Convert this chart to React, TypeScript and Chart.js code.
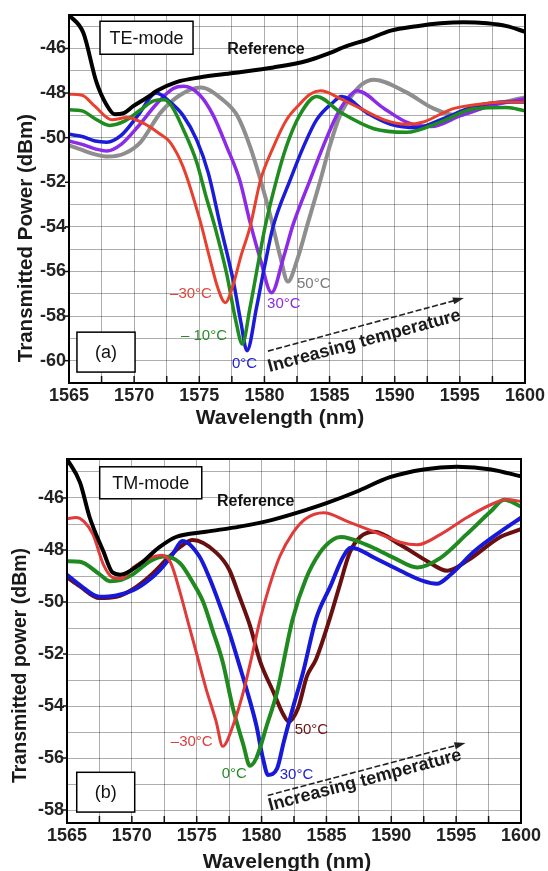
import React, { useEffect, useRef } from "react";
import { Chart, registerables } from "chart.js";
Chart.register(...registerables);

const FONT = '"Liberation Sans", Arial, sans-serif';

// ---------- TE-mode (a) ----------
const teRefX = [1565, 1566.1, 1567.1, 1567.9, 1568.5, 1569.2, 1569.9, 1571, 1571.75, 1573.3, 1575, 1577.6, 1580.7, 1583.3, 1584.8, 1586.3, 1587.9, 1589.7, 1591.7, 1593.5, 1595.3, 1597.1, 1598.6, 1600];
const teRefY = [-44.5, -45.3, -47.5, -48.55, -48.95, -48.9, -48.6, -48.2, -47.9, -47.5, -47.3, -47.1, -46.85, -46.55, -46.25, -45.9, -45.6, -45.2, -45.0, -44.87, -44.82, -44.87, -45.0, -45.25];

const teM30X = [1565, 1566, 1567, 1568.3, 1569.4, 1570.7, 1571.9, 1572.75, 1573.75, 1575.05, 1575.8, 1576.4, 1577, 1577.6, 1578.2, 1578.9, 1579.7, 1580.7, 1581.7, 1582.7, 1583.5, 1584.3, 1585.9, 1587.4, 1589.2, 1590.9, 1592.2, 1593.5, 1594.5, 1596.5, 1598.5, 1600];
const teM30Y = [-48.05, -48.1, -48.6, -49.2, -49.1, -49.35, -49.8, -50.2, -51.3, -53.7, -55.4, -56.7, -57.4, -56.6, -55.3, -54.0, -51.9, -50.4, -49.2, -48.5, -48.05, -47.9, -48.27, -48.7, -49.2, -49.4, -49.3, -48.95, -48.7, -48.5, -48.4, -48.4];

const teM10X = [1565, 1566, 1567, 1568.1, 1569.3, 1570.5, 1571.5, 1572.3, 1572.9, 1573.75, 1574.8, 1575.5, 1576.2, 1577.1, 1577.8, 1578.3, 1578.9, 1579.5, 1580.05, 1580.94, 1581.7, 1582.7, 1584, 1585.85, 1588.4, 1590.9, 1593.5, 1596.1, 1598.6, 1600];
const teM10Y = [-48.75, -48.8, -49.15, -49.45, -49.25, -48.75, -48.35, -48.3, -48.6, -49.6, -51.1, -52.6, -54.0, -56.1, -58.2, -59.25, -57.6, -55.7, -54.0, -51.87, -50.37, -49.0, -48.15, -48.87, -49.6, -49.76, -49.3, -48.7, -48.65, -48.8];

const te0X = [1565, 1566, 1567, 1567.9, 1569, 1570.3, 1571.7, 1572.75, 1573.75, 1574.8, 1575.7, 1576.6, 1577.6, 1578.2, 1578.66, 1579.4, 1580, 1580.66, 1582, 1583, 1584, 1585.3, 1585.9, 1587.9, 1589.7, 1591.7, 1593.5, 1596.1, 1598.6, 1600];
const te0Y = [-49.85, -49.95, -50.15, -50.2, -49.9, -49.0, -48.0, -48.4, -49.0, -50.1, -51.6, -53.9, -56.4, -58.3, -59.55, -57.6, -55.8, -54.0, -51.86, -50.4, -49.2, -48.4, -48.15, -48.9, -49.4, -49.55, -49.2, -48.6, -48.4, -48.4];

const te30X = [1565, 1566, 1567, 1567.9, 1569, 1570.3, 1571.7, 1573, 1573.8, 1575.05, 1576.07, 1577.1, 1578.1, 1578.9, 1579.66, 1580.55, 1581.45, 1582.2, 1583.5, 1584.5, 1585.55, 1586.3, 1587.1, 1589.2, 1590.9, 1592.8, 1595.1, 1597.4, 1600];
const te30Y = [-50.15, -50.3, -50.5, -50.6, -50.3, -49.5, -48.5, -47.8, -47.7, -48.1, -49.0, -50.4, -51.9, -53.8, -55.4, -56.95, -55.4, -53.9, -51.9, -50.4, -49.0, -48.3, -47.9, -48.7, -49.3, -49.5, -49.0, -48.57, -48.25];

const te50X = [1565, 1566, 1567, 1568, 1569.3, 1570.5, 1572, 1573.5, 1575.1, 1576.8, 1577.9, 1578.9, 1579.7, 1580.5, 1581.2, 1581.8, 1582.5, 1583.3, 1584.3, 1585, 1585.8, 1586.6, 1587.5, 1588.4, 1590.9, 1593, 1594.8, 1597.1, 1600];
const te50Y = [-50.35, -50.55, -50.75, -50.85, -50.7, -50.2, -48.9, -48.1, -47.75, -48.3, -49.0, -50.4, -51.9, -53.6, -55.3, -56.45, -55.5, -53.9, -51.9, -50.4, -49.0, -48.2, -47.6, -47.4, -47.97, -48.7, -49.0, -48.57, -48.2];

// ---------- TM-mode (b) ----------
const tmRefX = [1565, 1566, 1566.75, 1567.8, 1568.5, 1569.1, 1570.6, 1572.1, 1573.4, 1575.7, 1578.3, 1580.9, 1583.5, 1585, 1587.3, 1589.9, 1592.5, 1595.05, 1597.7, 1600];
const tmRefY = [-44.5, -45.4, -46.75, -48.05, -48.86, -48.95, -48.55, -47.9, -47.5, -47.3, -47.1, -46.83, -46.45, -46.2, -45.76, -45.2, -44.9, -44.8, -44.9, -45.17];

const tmM30X = [1565, 1565.7, 1566.3, 1567, 1567.8, 1568.5, 1569.2, 1570.1, 1571.4, 1572.3, 1573, 1573.7, 1574.4, 1575.0, 1575.7, 1576.5, 1577, 1577.8, 1578.6, 1579.2, 1579.9, 1580.6, 1581.4, 1582.4, 1583.4, 1584.8, 1586.6, 1588.7, 1590.7, 1592, 1593.8, 1595.8, 1597.7, 1598.9, 1600];
const tmM30Y = [-46.8, -46.75, -46.9, -47.4, -48.55, -49.05, -49.1, -48.67, -48.3, -48.2, -48.5, -49.6, -50.9, -52.0, -53.3, -54.6, -55.55, -54.75, -53.45, -52.2, -50.65, -49.4, -48.25, -47.35, -46.8, -46.57, -46.9, -47.3, -47.7, -47.8, -47.4, -46.76, -46.25, -46.06, -46.13];

const tm0X = [1565, 1566, 1567.5, 1568.3, 1569.2, 1570.1, 1571.4, 1572.5, 1573.7, 1574.7, 1575.5, 1576.2, 1577, 1577.8, 1578.6, 1579.1, 1579.6, 1580.4, 1581.2, 1582.4, 1583.4, 1584.5, 1585.5, 1586.1, 1588.1, 1590.2, 1592, 1593.8, 1595.8, 1597.7, 1598.7, 1600];
const tm0Y = [-48.43, -48.45, -48.93, -49.2, -49.15, -48.93, -48.43, -48.25, -48.5, -49.25, -50.0, -51.05, -52.3, -54.1, -55.5, -56.3, -56.0, -54.75, -53.45, -50.65, -49.13, -48.1, -47.6, -47.5, -47.8, -48.3, -48.67, -48.3, -47.4, -46.5, -46.07, -46.33];

const tm30X = [1565, 1566, 1567.5, 1568.8, 1570.1, 1571.2, 1572.1, 1573.1, 1573.9, 1575.2, 1576, 1576.8, 1577.6, 1578.3, 1578.9, 1579.6, 1580.1, 1580.5, 1581.2, 1581.7, 1582.4, 1583.2, 1584.2, 1585.3, 1586.3, 1586.9, 1588.7, 1590.7, 1592.5, 1593.5, 1594.6, 1596.4, 1598.4, 1600];
const tm30Y = [-48.95, -49.35, -49.8, -49.75, -49.55, -49.2, -48.8, -48.2, -47.65, -48.24, -49.1, -50.15, -51.3, -52.45, -53.45, -54.75, -56.0, -56.65, -56.4, -55.4, -54.1, -52.7, -50.65, -49.4, -48.25, -47.9, -48.3, -48.8, -49.2, -49.3, -48.93, -48.05, -47.3, -46.76];

const tm50X = [1565, 1566, 1567.5, 1568.8, 1570.1, 1571.5, 1572.8, 1573.8, 1574.7, 1576.5, 1577.5, 1578.3, 1579.1, 1579.9, 1580.9, 1581.7, 1582.1, 1582.8, 1583.5, 1584.2, 1585.25, 1586, 1586.8, 1587.6, 1588.7, 1590.7, 1592.8, 1594.3, 1595.9, 1598.4, 1600];
const tm50Y = [-49.05, -49.4, -49.85, -49.8, -49.5, -48.95, -48.3, -47.85, -47.62, -48.1, -48.75, -49.8, -50.9, -52.3, -53.45, -54.35, -54.6, -54.1, -52.85, -52.2, -50.65, -49.4, -48.1, -47.5, -47.3, -47.8, -48.44, -48.8, -48.4, -47.5, -47.2];

// tick settings
const xTickMin = 1565;
const xTickMax = 1600;
const xGridStep = 2.5;
const xLabelStep = 5;
const yGridStep = 1;
const yLabelStep = 2;

type Ann = {
  boxes: { text: string; x0: number; x1: number; y0: number; y1: number }[];
  labels: { text: string; x: number; y: number; color: string; align: CanvasTextAlign; font: string }[];
  arrow: { x0: number; y0: number; x1: number; y1: number; tx: number; ty: number; text: string };
  yTitle: { text: string; cx: number; cy: number; size: number };
  xTitle: { text: string; cx: number; cy: number; size: number };
};

const zip = (xs: number[], ys: number[]) => xs.map((x, i) => ({ x, y: ys[i] }));

const isMult = (v: number, step: number) => Math.abs(v / step - Math.round(v / step)) < 1e-6;

function stepTicks(step: number) {
  return (s: any) => {
    const out: { value: number }[] = [];
    const start = Math.ceil(s.min / step - 1e-9) * step;
    for (let v = start; v <= s.max + 1e-9; v += step) out.push({ value: Math.round(v * 1000) / 1000 });
    s.ticks = out;
  };
}

function makeDeco(ann: Ann) {
  return {
    id: "deco",
    afterDatasetsDraw(chart: any) {
      const { ctx, chartArea: a, scales } = chart;
      const x = scales.x;
      const y = scales.y;
      ctx.save();
      // tick marks
      ctx.strokeStyle = "#111";
      ctx.lineWidth = 1.5;
      x.ticks.forEach((t: any) => {
        const px = x.getPixelForValue(t.value);
        ctx.beginPath();
        ctx.moveTo(px, a.bottom);
        ctx.lineTo(px, a.bottom - 7);
        ctx.stroke();
      });
      y.ticks.forEach((t: any) => {
        if (isMult(t.value, yLabelStep)) {
          const py = y.getPixelForValue(t.value);
          ctx.beginPath();
          ctx.moveTo(a.left - 4, py);
          ctx.lineTo(a.left, py);
          ctx.stroke();
        }
      });
      // frame
      ctx.strokeStyle = "#000";
      ctx.lineWidth = 2;
      ctx.strokeRect(a.left, a.top, a.right - a.left, a.bottom - a.top);

      // boxes
      ann.boxes.forEach((b) => {
        const l = x.getPixelForValue(b.x0);
        const r = x.getPixelForValue(b.x1);
        const t = y.getPixelForValue(b.y0);
        const bt = y.getPixelForValue(b.y1);
        ctx.fillStyle = "#fff";
        ctx.fillRect(l, t, r - l, bt - t);
        ctx.strokeStyle = "#000";
        ctx.lineWidth = 1.5;
        ctx.strokeRect(l, t, r - l, bt - t);
        ctx.fillStyle = "#111";
        ctx.font = `18px ${FONT}`;
        ctx.textAlign = "center";
        ctx.textBaseline = "middle";
        ctx.fillText(b.text, (l + r) / 2, (t + bt) / 2 + 1);
      });

      // labels
      ann.labels.forEach((lb) => {
        ctx.fillStyle = lb.color;
        ctx.font = lb.font;
        ctx.textAlign = lb.align;
        ctx.textBaseline = "middle";
        ctx.fillText(lb.text, x.getPixelForValue(lb.x), y.getPixelForValue(lb.y));
      });

      // arrow
      const ar = ann.arrow;
      const p0x = x.getPixelForValue(ar.x0);
      const p0y = y.getPixelForValue(ar.y0);
      const p1x = x.getPixelForValue(ar.x1);
      const p1y = y.getPixelForValue(ar.y1);
      const ang = Math.atan2(p1y - p0y, p1x - p0x);
      ctx.strokeStyle = "#222";
      ctx.lineWidth = 1.6;
      ctx.setLineDash([6, 2.5]);
      ctx.beginPath();
      ctx.moveTo(p0x, p0y);
      ctx.lineTo(p1x - 8 * Math.cos(ang), p1y - 8 * Math.sin(ang));
      ctx.stroke();
      ctx.setLineDash([]);
      ctx.fillStyle = "#222";
      ctx.beginPath();
      ctx.moveTo(p1x, p1y);
      ctx.lineTo(p1x - 11 * Math.cos(ang) + 3.5 * Math.sin(ang), p1y - 11 * Math.sin(ang) - 3.5 * Math.cos(ang));
      ctx.lineTo(p1x - 11 * Math.cos(ang) - 3.5 * Math.sin(ang), p1y - 11 * Math.sin(ang) + 3.5 * Math.cos(ang));
      ctx.closePath();
      ctx.fill();
      ctx.save();
      ctx.translate(x.getPixelForValue(ar.tx), y.getPixelForValue(ar.ty));
      ctx.rotate(ang);
      ctx.fillStyle = "#1a1a1a";
      ctx.font = `bold 18px ${FONT}`;
      ctx.textAlign = "center";
      ctx.textBaseline = "alphabetic";
      ctx.fillText(ar.text, 0, 0);
      ctx.restore();
      ctx.restore();
    },
    afterDraw(chart: any) {
      const { ctx } = chart;
      ctx.save();
      ctx.fillStyle = "#1a1a1a";
      ctx.textAlign = "center";
      ctx.textBaseline = "middle";
      ctx.font = `bold ${ann.xTitle.size}px ${FONT}`;
      ctx.fillText(ann.xTitle.text, ann.xTitle.cx, ann.xTitle.cy);
      ctx.translate(ann.yTitle.cx, ann.yTitle.cy);
      ctx.rotate(-Math.PI / 2);
      ctx.font = `bold ${ann.yTitle.size}px ${FONT}`;
      ctx.fillText(ann.yTitle.text, 0, 0);
      ctx.restore();
    },
  };
}

function makeConfig(datasets: any[], yMin: number, yMax: number, pad: { top: number; right: number }, yWidth: number, xHeight: number, ann: Ann) {
  const tickFont = { family: FONT, size: 18, weight: "bold" as const };
  return {
    type: "line" as const,
    data: { datasets },
    options: {
      animation: false,
      responsive: false,
      maintainAspectRatio: false,
      layout: { padding: { top: pad.top, right: pad.right, left: 0, bottom: 0 } },
      plugins: { legend: { display: false }, tooltip: { enabled: false } },
      elements: {
        point: { radius: 0, hoverRadius: 0 },
        line: { borderWidth: 3.5, cubicInterpolationMode: "monotone" as const, fill: false },
      },
      scales: {
        x: {
          type: "linear" as const,
          min: xTickMin,
          max: xTickMax,
          afterBuildTicks: stepTicks(xGridStep),
          ticks: {
            autoSkip: false,
            maxRotation: 0,
            padding: 2,
            color: "#222",
            font: tickFont,
            callback: (v: any) => (isMult(v, xLabelStep) ? String(v) : ""),
          },
          grid: { color: "rgba(0,0,0,0.32)", lineWidth: 1, drawTicks: false },
          border: { display: false },
          afterFit: (s: any) => {
            s.height = xHeight;
          },
        },
        y: {
          type: "linear" as const,
          min: yMin,
          max: yMax,
          afterBuildTicks: stepTicks(yGridStep),
          ticks: {
            autoSkip: false,
            padding: 3,
            color: "#222",
            font: tickFont,
            callback: (v: any) => (isMult(v, yLabelStep) ? String(v) : ""),
          },
          grid: { color: "rgba(0,0,0,0.32)", lineWidth: 1, drawTicks: false },
          border: { display: false },
          afterFit: (s: any) => {
            s.width = yWidth;
          },
        },
      },
    },
    plugins: [makeDeco(ann)],
  };
}

const ds = (label: string, xs: number[], ys: number[], color: string, w = 3.5) => ({
  label,
  data: zip(xs, ys),
  borderColor: color,
  backgroundColor: color,
  borderWidth: w,
});

const teAnn: Ann = {
  boxes: [
    { text: "TE-mode", x0: 1567.38, x1: 1574.52, y0: -44.78, y1: -46.26 },
    { text: "(a)", x0: 1565.61, x1: 1570.07, y0: -58.72, y1: -60.51 },
  ],
  labels: [
    { text: "Reference", x: 1580.12, y: -46.03, color: "#111", align: "center", font: `bold 16px ${FONT}` },
    { text: "\u201330\u00b0C", x: 1575.97, y: -57.01, color: "#e0483a", align: "right", font: `15px ${FONT}` },
    { text: "\u2013 10\u00b0C", x: 1577.13, y: -58.9, color: "#2a8a2a", align: "right", font: `15px ${FONT}` },
    { text: "0\u00b0C", x: 1577.51, y: -60.15, color: "#2222cc", align: "left", font: `15px ${FONT}` },
    { text: "30\u00b0C", x: 1580.2, y: -57.46, color: "#8a2be2", align: "left", font: `15px ${FONT}` },
    { text: "50\u00b0C", x: 1582.5, y: -56.56, color: "#7a7a7a", align: "left", font: `15px ${FONT}` },
  ],
  arrow: { x0: 1580.27, y0: -59.57, x1: 1595.31, y1: -57.19, tx: 1587.77, ty: -59.34, text: "Increasing temperature" },
  yTitle: { text: "Transmitted Power (dBm)", cx: 26, cy: 238, size: 20.5 },
  xTitle: { text: "Wavelength (nm)", cx: 280, cy: 418, size: 21 },
};

const tmAnn: Ann = {
  boxes: [
    { text: "TM-mode", x0: 1567.52, x1: 1575.39, y0: -44.8, y1: -46.03 },
    { text: "(b)", x0: 1565.75, x1: 1570.22, y0: -56.55, y1: -58.08 },
  ],
  labels: [
    { text: "Reference", x: 1579.55, y: -46.14, color: "#111", align: "center", font: `bold 16px ${FONT}` },
    { text: "\u201330\u00b0C", x: 1576.23, y: -55.37, color: "#d84040", align: "right", font: `15px ${FONT}` },
    { text: "0\u00b0C", x: 1576.93, y: -56.6, color: "#2a8a2a", align: "left", font: `15px ${FONT}` },
    { text: "30\u00b0C", x: 1581.4, y: -56.64, color: "#2222cc", align: "left", font: `15px ${FONT}` },
    { text: "50\u00b0C", x: 1582.55, y: -54.91, color: "#6a1414", align: "left", font: `15px ${FONT}` },
  ],
  arrow: { x0: 1580.47, y0: -57.44, x1: 1595.72, y1: -55.42, tx: 1588.07, ty: -57.05, text: "Increasing temperature" },
  yTitle: { text: "Transmitted power (dBm)", cx: 21, cy: 230.5, size: 19.5 },
  xTitle: { text: "Wavelength (nm)", cx: 287, cy: 427, size: 21 },
};

export default function App() {
  const topRef = useRef<HTMLCanvasElement>(null);
  const botRef = useRef<HTMLCanvasElement>(null);

  useEffect(() => {
    const teSets = [
      ds("Reference", teRefX, teRefY, "#000000", 4),
      ds("-30°C", teM30X, teM30Y, "#e8402e", 3),
      ds("-10°C", teM10X, teM10Y, "#1e8c1e"),
      ds("0°C", te0X, te0Y, "#1c1cd8"),
      ds("30°C", te30X, te30Y, "#8b2be8"),
      ds("50°C", te50X, te50Y, "#8e8e8e", 4),
    ];
    const tmSets = [
      ds("Reference", tmRefX, tmRefY, "#000000", 4),
      ds("-30°C", tmM30X, tmM30Y, "#e03a3a", 3),
      ds("0°C", tm0X, tm0Y, "#208a20", 4),
      ds("30°C", tm30X, tm30Y, "#1818d8", 4),
      ds("50°C", tm50X, tm50Y, "#6a0f0f", 4),
    ];
    const c1 = new Chart(topRef.current as HTMLCanvasElement, makeConfig(teSets, -61, -44.5, { top: 15, right: 23 }, 69, 52, teAnn) as any);
    const c2 = new Chart(botRef.current as HTMLCanvasElement, makeConfig(tmSets, -58.5, -44.5, { top: 24, right: 27 }, 67, 48, tmAnn) as any);
    return () => {
      c1.destroy();
      c2.destroy();
    };
  }, []);

  return (
    <div style={{ position: "absolute", left: 0, top: 0, width: 548, height: 871, background: "#fff", overflow: "hidden" }}>
      <canvas ref={topRef} width={548} height={435} style={{ position: "absolute", left: 0, top: 0, width: 548, height: 435 }} />
      <canvas ref={botRef} width={548} height={436} style={{ position: "absolute", left: 0, top: 435, width: 548, height: 436 }} />
    </div>
  );
}
